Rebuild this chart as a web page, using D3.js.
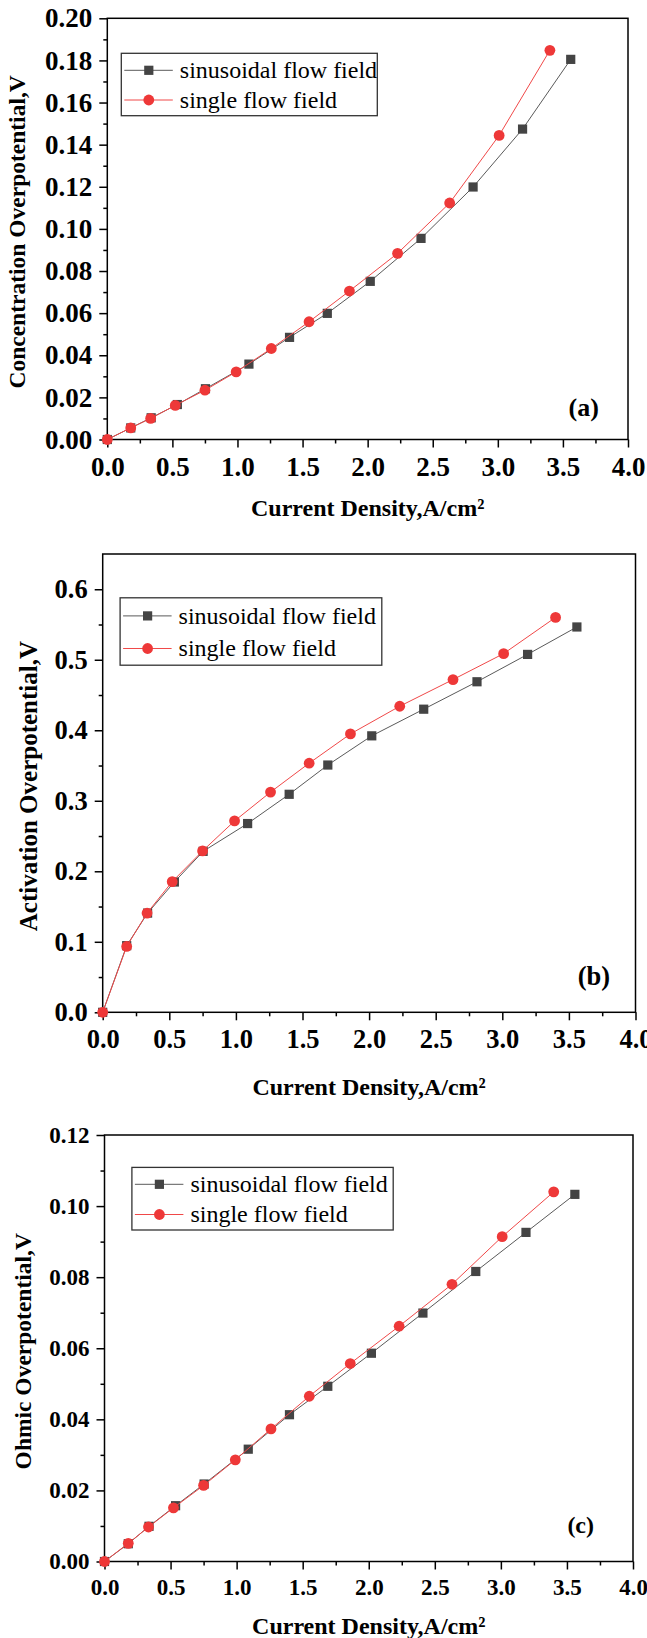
<!DOCTYPE html>
<html>
<head>
<meta charset="utf-8">
<script src="https://cdn.jsdelivr.net/npm/d3@7"></script>
<style>
  body { margin: 0; background: #fff; }
  text { font-family: "Liberation Serif", "Times New Roman", serif; }
</style>
</head>
<body>
<script>
// current density values of each series (A/cm2)
const xSinusoidal = [0, 0.18, 0.337, 0.538, 0.754, 1.088, 1.40, 1.69, 2.02, 2.41, 2.81, 3.19, 3.56]
const xSingle = [0, 0.18, 0.333, 0.522, 0.75, 0.99, 1.26, 1.55, 1.86, 2.23, 2.63, 3.01, 3.40]

// (a) concentration overpotential
const concSinusoidal = [0, 0.0055, 0.0103, 0.0166, 0.0241, 0.0358, 0.0485, 0.0599, 0.0751, 0.0955, 0.1199, 0.1474, 0.1805]
const concSingle = [0, 0.0055, 0.0100, 0.0162, 0.0234, 0.0321, 0.0432, 0.0559, 0.0705, 0.0884, 0.1123, 0.1444, 0.1848]

// (b) activation overpotential
const actSinusoidal = [0, 0.0945, 0.1407, 0.1848, 0.2283, 0.2677, 0.3092, 0.3507, 0.3921, 0.4299, 0.4688, 0.5076, 0.5465]
const actSingle = [0, 0.0934, 0.1407, 0.1853, 0.2289, 0.2714, 0.3123, 0.3533, 0.3948, 0.4341, 0.4719, 0.5087, 0.5601]

// (c) ohmic overpotential
const ohmSinusoidal = [0, 0.0050, 0.0099, 0.0157, 0.0218, 0.0316, 0.0413, 0.0493, 0.0586, 0.0699, 0.0816, 0.0926, 0.1033]
const ohmSingle = [0, 0.0051, 0.0097, 0.0151, 0.0214, 0.0286, 0.0373, 0.0465, 0.0557, 0.0662, 0.0780, 0.0914, 0.1040]

const xTicks = [0, 0.5, 1, 1.5, 2, 2.5, 3, 3.5, 4]
const seriesNames = ["sinusoidal flow field", "single flow field"]
const xTitle = "Current Density,A/cm²"

const grey = "#5a5a5a", greyMarker = "#444"
const red = "#f04848", redMarker = "#ee3838"

let svg = d3.select("body").append("svg")
  .attr("width", 647)
  .attr("height", 1638)

svg.append("rect").attr("width", 647).attr("height", 1638).attr("fill", "#fff")

const panels = [
  { tag: "(a)", ySin: concSinusoidal, ySingle: concSingle, yMax: 0.20, yStep: 0.02, yFmt: ".2f",
    yTitle: "Concentration Overpotential,V",
    left: 107.3, right: 628, top: 18.3, bottom: 439.5, tickFont: 27,
    yTitleX: 16.5, yTitleFont: 23.5, xTitleOff: 68.5,
    leg: { dx: 14, dy: 35, w: 256, h: 62.4, r1: 17, r2: 46.7 },
    tagPos: [583.7, 406.7], tagFont: 26 },
  { tag: "(b)", ySin: actSinusoidal, ySingle: actSingle, yMax: 0.65, yStep: 0.1, yFmt: ".1f",
    yTitle: "Activation Overpotential,V",
    left: 102.7, right: 635.5, top: 554, bottom: 1012.3, tickFont: 26.5,
    yTitleX: 28, yTitleFont: 25, xTitleOff: 74.7,
    leg: { dx: 17.4, dy: 43.8, w: 261.7, h: 67.4, r1: 18.1, r2: 50.7 },
    tagPos: [594, 975.6], tagFont: 26.5 },
  { tag: "(c)", ySin: ohmSinusoidal, ySingle: ohmSingle, yMax: 0.12, yStep: 0.02, yFmt: ".2f",
    yTitle: "Ohmic Overpotential,V",
    left: 104.5, right: 633, top: 1135, bottom: 1561.5, tickFont: 23,
    yTitleX: 22.7, yTitleFont: 23.5, xTitleOff: 64.5,
    leg: { dx: 27.4, dy: 32.4, w: 261.3, h: 62.6, r1: 16.9, r2: 47.1 },
    tagPos: [580.7, 1524.1], tagFont: 24 }
]

panels.forEach(drawPanel)

function drawPanel(p) {
  let g = svg.append("g")
  let x = d3.scaleLinear().domain([0, 4]).range([p.left, p.right])
  let y = d3.scaleLinear().domain([0, p.yMax]).range([p.bottom, p.top])

  let yMajor = d3.range(0, p.yMax + 1e-9, p.yStep)
  let yMinor = d3.range(p.yStep / 2, p.yMax, p.yStep)
  let xMinor = d3.range(0.25, 4, 0.5)

  // minor ticks
  g.append("g").attr("transform", `translate(0,${p.bottom})`)
    .call(d3.axisBottom(x).tickValues(xMinor).tickSize(4).tickFormat(""))
    .call(a => a.select(".domain").remove())
  g.append("g").attr("transform", `translate(${p.left},0)`)
    .call(d3.axisLeft(y).tickValues(yMinor).tickSize(4).tickFormat(""))
    .call(a => a.select(".domain").remove())

  // major ticks + labels
  let xa = g.append("g").attr("transform", `translate(0,${p.bottom})`)
    .call(d3.axisBottom(x).tickValues(xTicks).tickSize(8).tickPadding(9).tickFormat(d3.format(".1f")))
  let ya = g.append("g").attr("transform", `translate(${p.left},0)`)
    .call(d3.axisLeft(y).tickValues(yMajor).tickSize(8).tickPadding(7).tickFormat(d3.format(p.yFmt)))
  ;[xa, ya].forEach(a => {
    a.select(".domain").remove()
    a.selectAll("text").attr("font-size", p.tickFont).attr("font-weight", "bold").attr("fill", "#000")
  })
  g.selectAll(".tick line").attr("stroke", "#000").attr("stroke-width", 1.5)

  // frame
  g.append("rect")
    .attr("x", p.left).attr("y", p.top)
    .attr("width", p.right - p.left).attr("height", p.bottom - p.top)
    .attr("fill", "none").attr("stroke", "#000").attr("stroke-width", 1.5)

  // series
  let line = d3.line().x(d => x(d[0])).y(d => y(d[1]))
  let sin = d3.zip(xSinusoidal, p.ySin)
  let single = d3.zip(xSingle, p.ySingle)

  g.append("path").datum(sin).attr("d", line)
    .attr("fill", "none").attr("stroke", grey).attr("stroke-width", 1)
  g.append("g").selectAll("rect").data(sin).enter().append("rect")
    .attr("x", d => x(d[0]) - 4.6).attr("y", d => y(d[1]) - 4.6)
    .attr("width", 9.2).attr("height", 9.2)
    .attr("fill", greyMarker)

  g.append("path").datum(single).attr("d", line)
    .attr("fill", "none").attr("stroke", red).attr("stroke-width", 1)
  g.append("g").selectAll("circle").data(single).enter().append("circle")
    .attr("cx", d => x(d[0])).attr("cy", d => y(d[1]))
    .attr("r", 5.4).attr("fill", redMarker)

  // legend
  let L = p.leg
  let lg = g.append("g").attr("transform", `translate(${p.left + L.dx},${p.top + L.dy})`)
  lg.append("rect").attr("width", L.w).attr("height", L.h)
    .attr("fill", "#fff").attr("stroke", "#333").attr("stroke-width", 1.3)
  ;[L.r1, L.r2].forEach((ry, i) => {
    lg.append("line").attr("x1", 3).attr("x2", 51.5).attr("y1", ry).attr("y2", ry)
      .attr("stroke", i ? red : grey).attr("stroke-width", 1)
    if (i) {
      lg.append("circle").attr("cx", 27.5).attr("cy", ry).attr("r", 5.4).attr("fill", redMarker)
    } else {
      lg.append("rect").attr("x", 27.5 - 4.6).attr("y", ry - 4.6)
        .attr("width", 9.2).attr("height", 9.2).attr("fill", greyMarker)
    }
    lg.append("text").attr("x", 58.5).attr("y", ry).attr("dy", "0.32em")
      .attr("font-size", 24).attr("fill", "#000").text(seriesNames[i])
  })

  // panel tag
  g.append("text").attr("x", p.tagPos[0]).attr("y", p.tagPos[1]).attr("dy", "0.35em")
    .attr("text-anchor", "middle").attr("font-size", p.tagFont).attr("font-weight", "bold")
    .text(p.tag)

  // axis titles
  g.append("text")
    .attr("x", (p.left + p.right) / 2).attr("y", p.bottom + p.xTitleOff).attr("dy", "0.35em")
    .attr("text-anchor", "middle").attr("font-size", 24).attr("font-weight", "bold")
    .text(xTitle)
  g.append("text")
    .attr("transform", `translate(${p.yTitleX},${(p.top + p.bottom) / 2 + 3}) rotate(-90)`)
    .attr("dy", "0.35em")
    .attr("text-anchor", "middle").attr("font-size", p.yTitleFont).attr("font-weight", "bold")
    .text(p.yTitle)
}
</script>
</body>
</html>
